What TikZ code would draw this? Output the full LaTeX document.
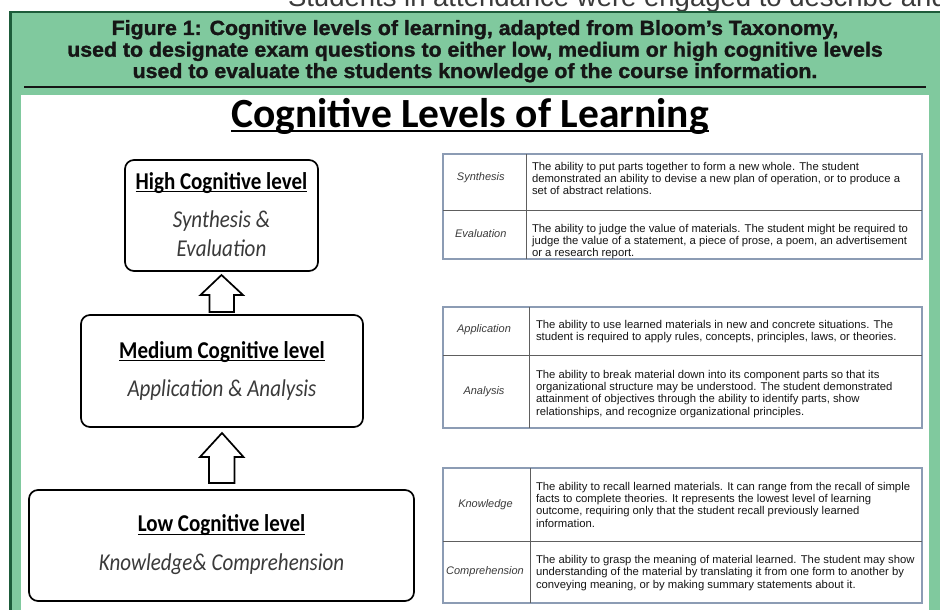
\documentclass[tikz,border=0pt]{standalone}
\usepackage{fontspec}
\setmainfont{Liberation Sans}
\newfontfamily\calibrifont{Carlito}
\newfontfamily\heavyfont{Liberation Sans}[BoldFeatures={FakeBold=1.4}]
\usetikzlibrary{calc}

\definecolor{panelgreen}{HTML}{80C99E}
\definecolor{paneledge}{HTML}{1D5C3A}
\definecolor{tableedge}{HTML}{8C9CB4}
\definecolor{tablerule}{HTML}{5E5E5E}
\definecolor{inktext}{HTML}{161616}
\definecolor{softtext}{HTML}{3A3A3A}

\newcommand{\headfont}{\heavyfont\fontsize{20.5}{22}\selectfont\bfseries}
% box texts are set a little taller than their natural shape
\newcommand{\tallbox}[1]{\scalebox{1}[1.15]{#1}}

\begin{document}
\begin{tikzpicture}[x=1pt,y=-1pt,
  every node/.style={inner sep=0pt, outer sep=0pt},
  levelbox/.style={draw=black, line width=1.7pt, rounded corners=9pt, fill=white},
  leveltitle/.style={anchor=base, font=\calibrifont\bfseries\fontsize{21}{24}\selectfont, text=black},
  levelsub/.style={anchor=base, font=\calibrifont\itshape\fontsize{21}{24}\selectfont, text=softtext},
  ulrule/.style={line width=1.3pt},
  upblock/.style={draw=black, line width=1.7pt, fill=white, line join=miter},
  tableframe/.style={draw=tableedge, line width=1.6pt},
  tablediv/.style={draw=tablerule, line width=1pt},
  rowlabel/.style={font=\itshape\fontsize{11}{12}\selectfont, text=softtext},
  rowtext/.style={anchor=north west, align=left, font=\fontsize{11.3}{12.2}\selectfont, text=inktext},
  headline/.style={anchor=base, font=\headfont, text=inktext}
]
\useasboundingbox (0,0) rectangle (940,610);

% running text of the page above the figure panel
\begin{scope}
  \clip (0,0) rectangle (940,11.5);
  \node[anchor=base west, font=\fontsize{27.5}{29}\selectfont, text=softtext] (topline) at (288,6.5)
    {Students in attendance were engaged to describe and};
\end{scope}

% green figure panel
\fill[panelgreen] (10.5,12) rectangle (945,615);
\draw[paneledge, line width=2.6pt] (10.5,615) -- (10.5,12) -- (945,12);
\fill[white] (21,95) rectangle (929,615);

% caption
\node[headline] (cap1) at (475,35) {\scalebox{1.04}[1]{Figure 1: Cognitive levels of learning, adapted from Bloom’s Taxonomy,}};
\node[headline] (cap2) at (475,56.7) {\scalebox{1.04}[1]{used to designate exam questions to either low, medium or high cognitive levels}};
\node[headline] (cap3) at (475,78) {\scalebox{1.04}[1]{used to evaluate the students knowledge of the course information.}};
\draw[inktext, line width=2.4pt] (24,87) -- (926,87);

% heading
\node[anchor=base, font=\calibrifont\bfseries\fontsize{41.5}{44}\selectfont] (title) at (470,127) {Cognitive Levels of Learning};
\draw[line width=2.2pt] ($(title.base west)+(0,4)$) -- ($(title.base east)+(0,4)$);

% level boxes
\node[levelbox, minimum width=193pt, minimum height=111pt] (high) at (221.5,215.5) {};
\node[levelbox, minimum width=282pt, minimum height=112pt] (med) at (222,371) {};
\node[levelbox, minimum width=385pt, minimum height=111pt] (low) at (221.5,545.5) {};

\node[leveltitle] (hightitle) at (221.5,189.3) {\tallbox{High Cognitive level}};
\draw[ulrule] ($(hightitle.base west)+(0,2.5)$) -- ($(hightitle.base east)+(0,2.5)$);
\node[levelsub] (highsub1) at (221.5,227.7) {\tallbox{Synthesis \&}};
\node[levelsub] (highsub2) at (221.5,256.7) {\tallbox{Evaluation}};

\node[leveltitle] (medtitle) at (222,358.3) {\tallbox{Medium Cognitive level}};
\draw[ulrule] ($(medtitle.base west)+(0,2.5)$) -- ($(medtitle.base east)+(0,2.5)$);
\node[levelsub] (medsub) at (222,396.7) {\tallbox{Application \& Analysis}};

\node[leveltitle] (lowtitle) at (221.5,531.7) {\tallbox{Low Cognitive level}};
\draw[ulrule] ($(lowtitle.base west)+(0,2.5)$) -- ($(lowtitle.base east)+(0,2.5)$);
\node[levelsub] (lowsub) at (221.5,570.7) {\tallbox{Knowledge\& Comprehension}};

% block arrows between the levels
\coordinate (a1tip) at ($(high.south)+(0,4)$);
\coordinate (a1base) at ($(med.north)+(0,-3)$);
\draw[upblock] (a1base) ++(-12.5,0) -- ++(0,-17) -- ++(-9,0) -- (a1tip)
  -- ++(21.5,20) -- ++(-9,0) -- ++(0,17) -- cycle;

\coordinate (a2tip) at ($(med.south)+(0,6)$);
\coordinate (a2base) at ($(low.north)+(0,-7)$);
\draw[upblock] (a2base) ++(-12.5,0) -- ++(0,-26) -- ++(-9,0) -- (a2tip)
  -- ++(21.5,24) -- ++(-9,0) -- ++(0,26) -- cycle;

% table: high level
\draw[tableframe] (443,154) rectangle (922,259);
\draw[tablediv] (526,154) -- (526,259);
\draw[tablediv] (443,210) -- (922,210);
\node[rowlabel] (synth) at (480.8,178) {Synthesis};
\node[rowlabel] (evalu) at (480.8,233.3) {Evaluation};
\node[rowtext] (synthtxt) at (532,162) {The ability to put parts together to form a new whole. The student\\demonstrated an ability to devise a new plan of operation, or to produce a\\set of abstract relations.};
\node[rowtext] (evalutxt) at (532,224.3) {The ability to judge the value of materials. The student might be required to\\judge the value of a statement, a piece of prose, a poem, an advertisement\\or a research report.};

% table: medium level
\draw[tableframe] (443,307) rectangle (922,428);
\draw[tablediv] (529,307) -- (529,428);
\draw[tablediv] (443,355) -- (922,355);
\node[rowlabel] (appl) at (484,330) {Application};
\node[rowlabel] (anal) at (484,391.7) {Analysis};
\node[rowtext] (appltxt) at (536,320.3) {The ability to use learned materials in new and concrete situations. The\\student is required to apply rules, concepts, principles, laws, or theories.};
\node[rowtext] (analtxt) at (536,370.3) {The ability to break material down into its component parts so that its\\organizational structure may be understood. The student demonstrated\\attainment of objectives through the ability to identify parts, show\\relationships, and recognize organizational principles.};

% table: low level
\draw[tableframe] (443,468) rectangle (922,603);
\draw[tablediv] (530,468) -- (530,603);
\draw[tablediv] (443,541) -- (922,541);
\node[rowlabel] (know) at (485.5,504.3) {Knowledge};
\node[rowlabel] (comp) at (485,571.7) {Comprehension};
\node[rowtext] (knowtxt) at (536,482.3) {The ability to recall learned materials. It can range from the recall of simple\\facts to complete theories. It represents the lowest level of learning\\outcome, requiring only that the student recall previously learned\\information.};
\node[rowtext] (comptxt) at (536,555.6) {The ability to grasp the meaning of material learned. The student may show\\understanding of the material by translating it from one form to another by\\conveying meaning, or by making summary statements about it.};
\end{tikzpicture}
\end{document}
